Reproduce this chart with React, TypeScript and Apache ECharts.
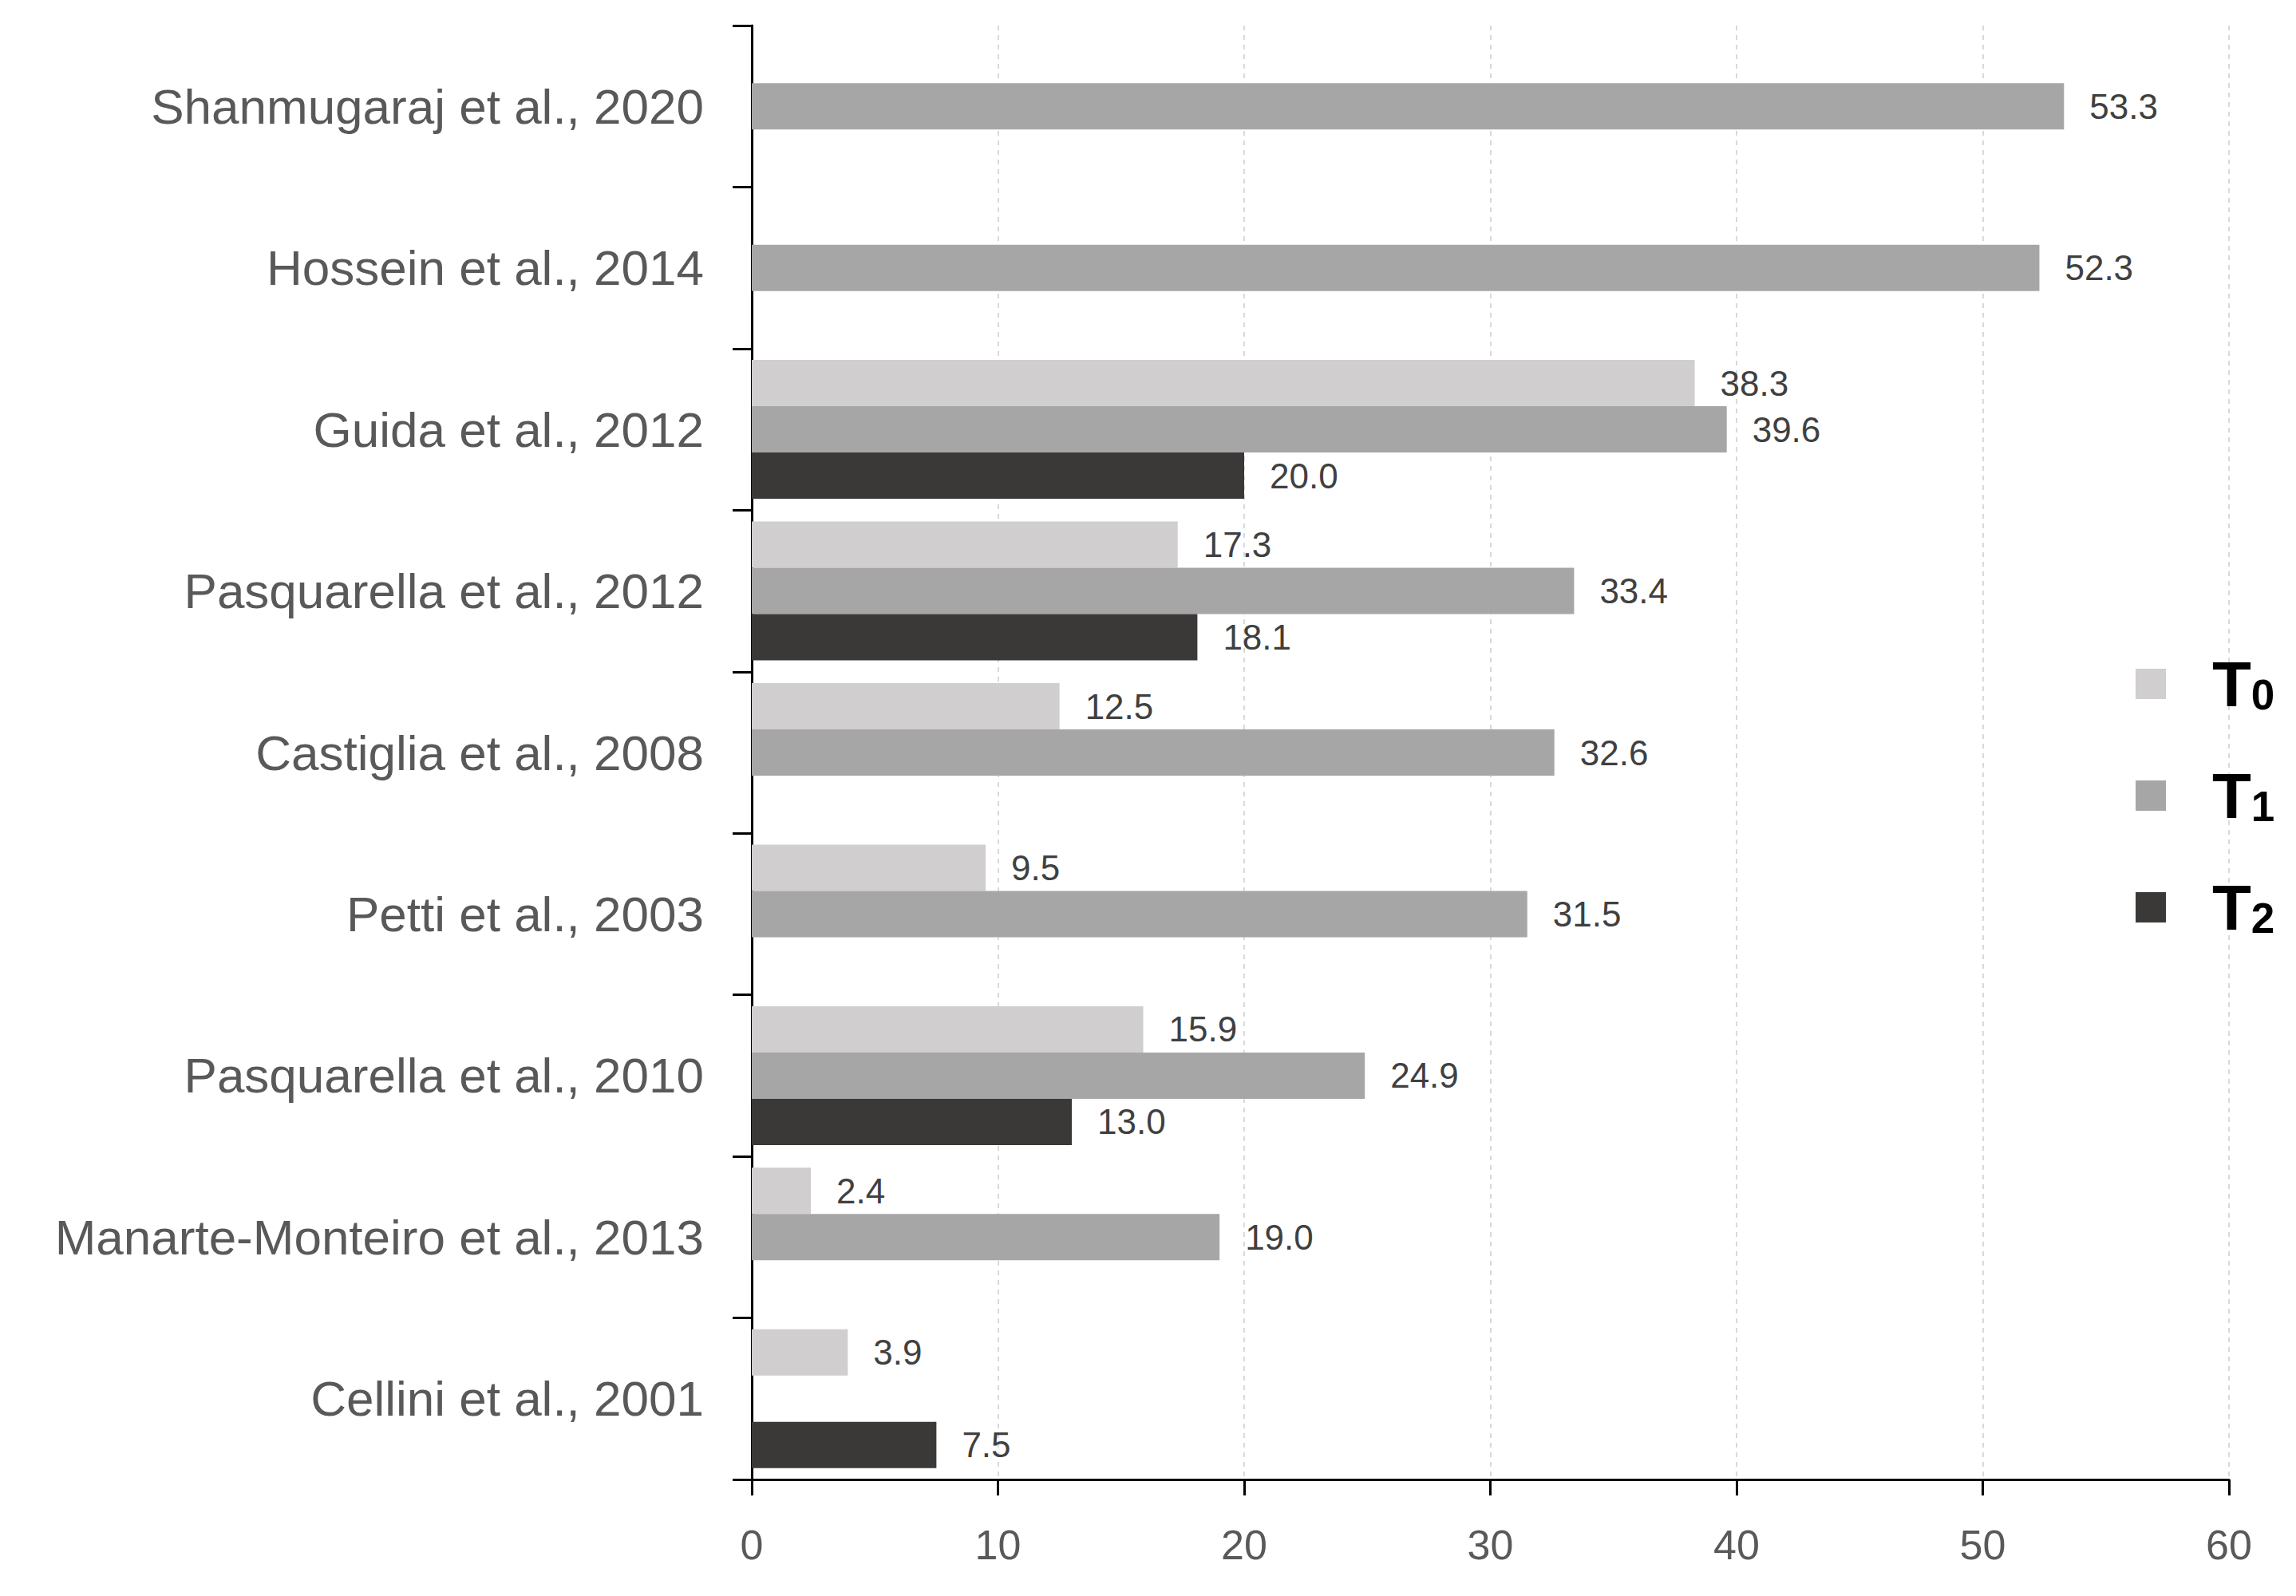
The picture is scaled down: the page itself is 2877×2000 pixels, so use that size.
import React, { useEffect, useRef } from "react";
import * as echarts from "echarts";

const categories = [
  "Shanmugaraj et al., 2020",
  "Hossein et al., 2014",
  "Guida et al., 2012",
  "Pasquarella et al., 2012",
  "Castiglia et al., 2008",
  "Petti et al., 2003",
  "Pasquarella et al., 2010",
  "Manarte-Monteiro et al., 2013",
  "Cellini et al., 2001",
];
const seriesNames = ["T0", "T1", "T2"];
const t0Values = [null, null, 38.3, 17.3, 12.5, 9.5, 15.9, 2.4, 3.9];
const t1Values = [53.3, 52.3, 39.6, 33.4, 32.6, 31.5, 24.9, 19.0, null];
const t2Values = [null, null, 20.0, 18.1, null, null, 13.0, null, 7.5];
const xTicks = { min: 0, max: 60, interval: 10 };

const colors = ["#D0CECE", "#A6A6A6", "#3B3838"];
const FONT = "'Liberation Sans', Arial, sans-serif";

export default function App() {
  const ref = useRef<HTMLDivElement>(null);
  useEffect(() => {
    document.body.style.margin = "0";
    if (!ref.current) return;
    const chart = echarts.init(ref.current, null, { renderer: "svg" });
    const values = [t0Values, t1Values, t2Values];
    chart.setOption({
      animation: false,
      backgroundColor: "#ffffff",
      textStyle: { fontFamily: FONT },
      grid: { left: 942, top: 32, width: 1851, height: 1822, containLabel: false },
      legend: {
        orient: "vertical",
        left: 2676,
        top: 789,
        padding: 0,
        itemWidth: 38,
        itemHeight: 38,
        itemGap: 32,
        icon: "rect",
        data: seriesNames,
        formatter: (name: string) => `{sp|}{t|T}{s|${name.slice(1)}}`,
        textStyle: {
          rich: {
            sp: { width: 53 },
            t: { fontSize: 80, fontWeight: "bold", color: "#000000", lineHeight: 80, verticalAlign: "middle", fontFamily: FONT },
            s: { fontSize: 53, fontWeight: "bold", color: "#000000", lineHeight: 53, padding: [55, 0, 0, 0], verticalAlign: "bottom", fontFamily: FONT },
          },
        },
      },
      xAxis: {
        type: "value",
        min: xTicks.min,
        max: xTicks.max,
        interval: xTicks.interval,
        axisLine: { show: true, lineStyle: { color: "#000000", width: 3 } },
        axisTick: { show: true, length: 20, lineStyle: { color: "#000000", width: 3 } },
        axisLabel: { fontSize: 52, color: "#595959", margin: 56, fontFamily: FONT },
        splitLine: { show: true, lineStyle: { color: "#D9D9D9", width: 2, type: [6, 6] } },
      },
      yAxis: {
        type: "category",
        inverse: true,
        data: categories,
        axisLine: { show: true, lineStyle: { color: "#000000", width: 3 } },
        axisTick: { show: true, length: 24, lineStyle: { color: "#000000", width: 3 } },
        axisLabel: { fontSize: 62, color: "#595959", margin: 60, fontFamily: FONT },
        splitLine: { show: false },
      },
      series: seriesNames.map((n, i) => ({
        name: n,
        type: "bar",
        data: values[i],
        barWidth: 58,
        barGap: "0%",
        itemStyle: { color: colors[i] },
        label: {
          show: true,
          position: "right",
          distance: 32,
          fontSize: 44,
          color: "#404040",
          fontFamily: FONT,
          formatter: (p: any) => (p.value == null ? "" : Number(p.value).toFixed(1)),
        },
      })),
    });
    return () => chart.dispose();
  }, []);
  return <div ref={ref} style={{ width: 2877, height: 2000 }} />;
}
